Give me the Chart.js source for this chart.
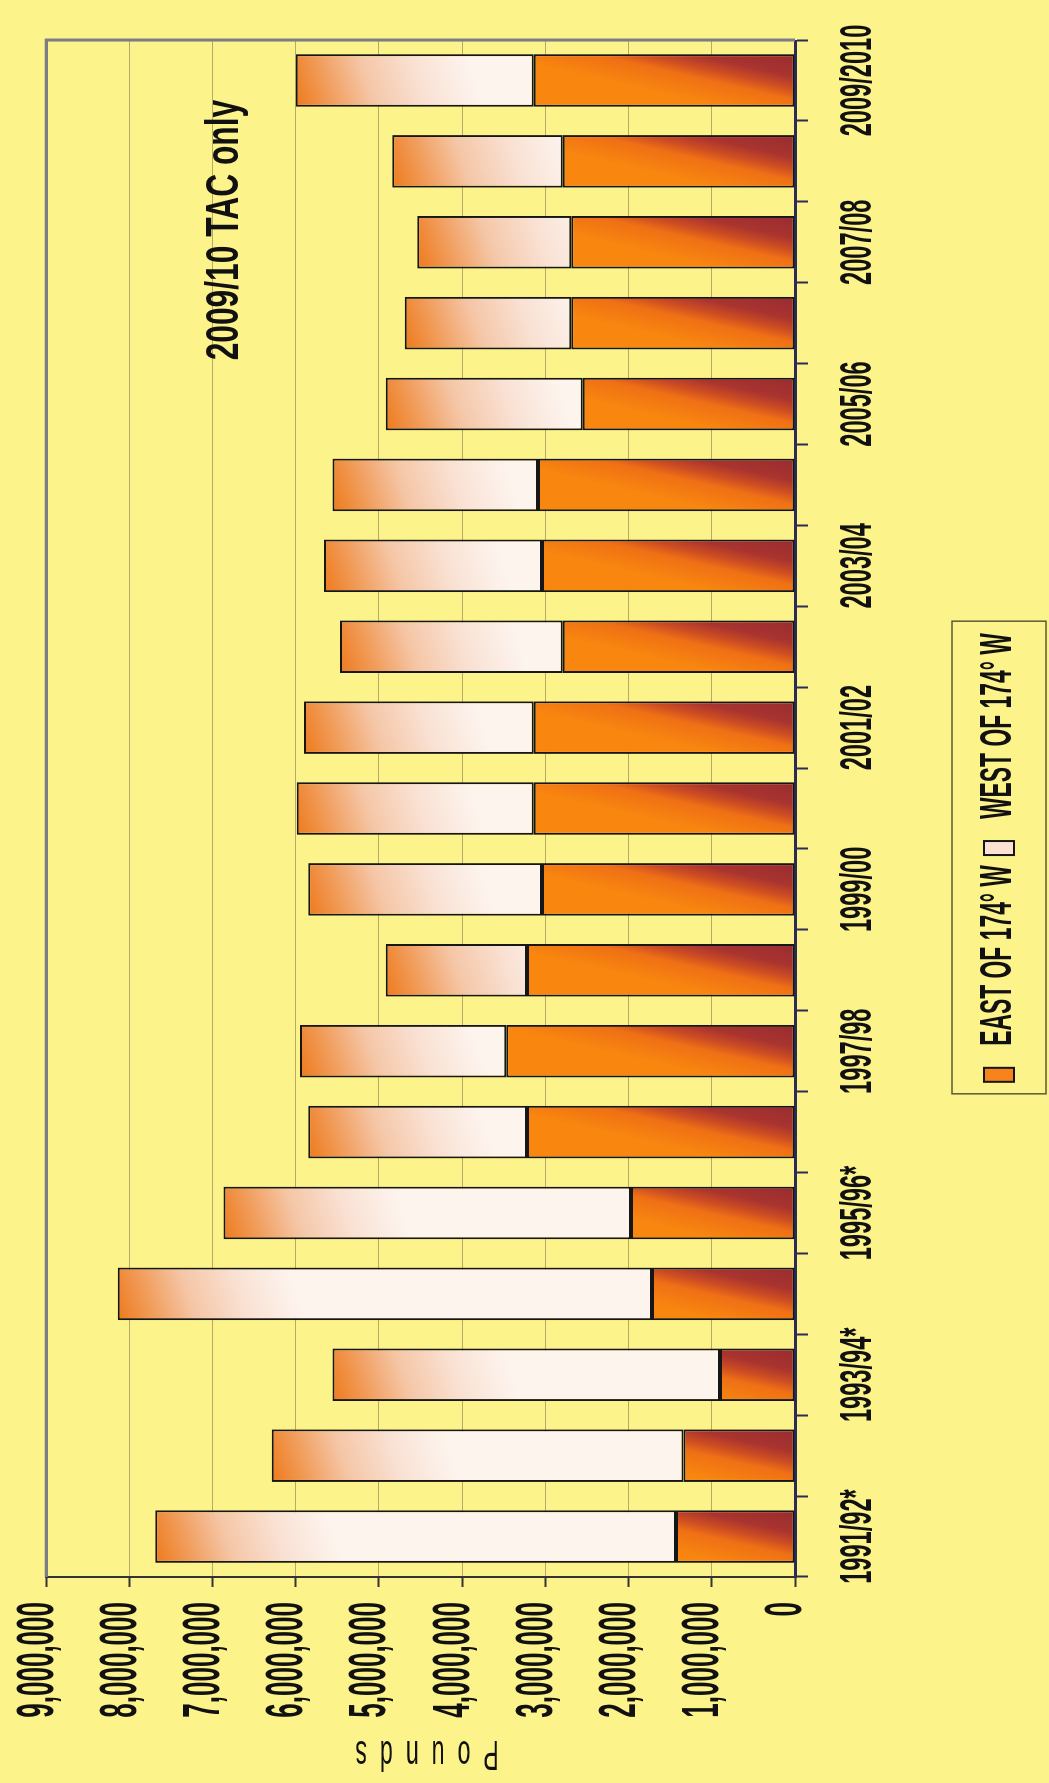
<!DOCTYPE html>
<html>
<head>
<meta charset="utf-8">
<script src="https://cdn.jsdelivr.net/npm/chart.js@4.4.1/dist/chart.umd.min.js"></script>
<style>
html,body{margin:0;padding:0;background:#fdf38b;width:1049px;height:1783px;overflow:hidden}
#wrap{position:absolute;left:0;top:0;width:1783px;height:1049px;transform-origin:0 0;transform:translate(0,1783px) rotate(-90deg)}
canvas{display:block}
</style>
</head>
<body>
<div id="wrap"><canvas id="c" width="1783" height="1049"></canvas></div>
<script>
// ---- data ----
const categories = ["1991/92*","1992/93","1993/94*","1994/95","1995/96*","1996/97","1997/98","1998/99","1999/00","2000/01","2001/02","2002/03","2003/04","2004/05","2005/06","2006/07","2007/08","2008/09","2009/2010"];
const eastValues = [1430000,1340000,900000,1720000,1970000,3220000,3470000,3220000,3040000,3140000,3140000,2790000,3040000,3090000,2550000,2690000,2690000,2790000,3140000];
const westValues = [6260000,4950000,4660000,6420000,4900000,2630000,2480000,1700000,2810000,2850000,2760000,2680000,2620000,2470000,2370000,2000000,1850000,2050000,2860000];
const seriesNames = ["EAST OF 174\u00b0 W", "WEST OF 174\u00b0 W"];
const legendColors = ["#f7841a", "#fbe3d3"];
const axisTitle = "Pounds";
const noteText = "2009/10 TAC only";
const noteCategory = 16.15;
const noteValue = 6850000;
const valueMax = 9000000;
const valueStep = 1000000;

// ---- condensed text rendering (the source font is ultra-condensed) ----
const canvas = document.getElementById('c');
const ctx = canvas.getContext('2d');
const SQUEEZE = {52:0.5, 45:0.525, 44:0.52, 43:0.54, 46:0.69};
const SPACING = {43:'24px'};
function sizeOf(font){ const m = /(\d+(?:\.\d+)?)px/.exec(font); return m ? Math.round(parseFloat(m[1])) : 0; }
const origFill = ctx.fillText.bind(ctx);
const origMeasure = ctx.measureText.bind(ctx);
ctx.fillText = function(t, x, y){
  const s = sizeOf(ctx.font); const k = SQUEEZE[s] || 1;
  ctx.save();
  if (SPACING[s]) ctx.letterSpacing = SPACING[s];
  ctx.translate(x, y); ctx.scale(k, 1);
  origFill(t, 0, 0);
  ctx.restore();
};
ctx.measureText = function(t){
  const s = sizeOf(ctx.font); const k = SQUEEZE[s] || 1;
  const prev = ctx.letterSpacing;
  if (SPACING[s]) ctx.letterSpacing = SPACING[s];
  const m = origMeasure(t);
  if (SPACING[s]) ctx.letterSpacing = prev;
  return {width:m.width*k, actualBoundingBoxAscent:m.actualBoundingBoxAscent, actualBoundingBoxDescent:m.actualBoundingBoxDescent,
    actualBoundingBoxLeft:m.actualBoundingBoxLeft*k, actualBoundingBoxRight:m.actualBoundingBoxRight*k,
    fontBoundingBoxAscent:m.fontBoundingBoxAscent, fontBoundingBoxDescent:m.fontBoundingBoxDescent};
};

const FAM = '"Liberation Sans", Arial, sans-serif';
const BAR_PCT = 0.65;

function eastFill(c){
  const solid = legendColors[0];
  if (c.type !== 'data') return solid;
  const ch = c.chart, xs = ch.scales.x, ys = ch.scales.y;
  if (!ch.chartArea || !xs || !ys) return solid;
  const hw = xs.width / categories.length * BAR_PCT / 2;
  const cx = xs.getPixelForValue(c.dataIndex);
  const y0 = ys.getPixelForValue(0);
  const g = ch.ctx.createLinearGradient(cx + hw, y0, cx + hw - 66, y0 - 15);
  g.addColorStop(0, '#982b30');
  g.addColorStop(0.33, '#a9342f');
  g.addColorStop(0.5, '#cc4c23');
  g.addColorStop(0.66, '#ef7015');
  g.addColorStop(1, '#f8860f');
  return g;
}
function westFill(c){
  const solid = legendColors[1];
  if (c.type !== 'data') return solid;
  const ch = c.chart, xs = ch.scales.x, ys = ch.scales.y;
  if (!ch.chartArea || !xs || !ys) return solid;
  const hw = xs.width / categories.length * BAR_PCT / 2;
  const cx = xs.getPixelForValue(c.dataIndex);
  const yT = ys.getPixelForValue(eastValues[c.dataIndex] + westValues[c.dataIndex]);
  const g = ch.ctx.createLinearGradient(cx - hw, yT, cx - hw + 55, yT + 170);
  g.addColorStop(0, '#ee7a1c');
  g.addColorStop(0.2, '#f19d5c');
  g.addColorStop(0.42, '#f5c6a6');
  g.addColorStop(0.7, '#f9e1d3');
  g.addColorStop(1, '#fdf4ee');
  return g;
}

const framePlugin = {
  id: 'frame',
  afterLayout(chart){
    const lg = chart.legend;
    if (lg) { lg.left += 46; lg.right += 46; }
  },
  beforeDatasetsDraw(chart){
    const {ctx: g, chartArea: a} = chart;
    g.save();
    g.strokeStyle = '#7c7c86';
    g.lineWidth = 3;
    g.beginPath();
    g.moveTo(a.left, a.top); g.lineTo(a.right, a.top); g.lineTo(a.right, a.bottom);
    g.stroke();
    g.restore();
  },
  afterDraw(chart){
    const g = chart.ctx, lg = chart.legend;
    if (lg && lg.legendHitBoxes && lg.legendHitBoxes.length){
      const hb = lg.legendHitBoxes;
      const l = Math.min(...hb.map(h => h.left)) - 12;
      const r = Math.max(...hb.map(h => h.left + h.width)) + 12;
      const mid = hb[0].top + hb[0].height / 2;
      g.save();
      g.strokeStyle = '#5a5a3a';
      g.lineWidth = 1.5;
      g.strokeRect(l, mid - 47, r - l, 94);
      g.restore();
    }
    const xs = chart.scales.x, ys = chart.scales.y;
    g.save();
    g.font = 'bold 46px ' + FAM;
    g.fillStyle = '#111';
    g.textAlign = 'center';
    g.textBaseline = 'middle';
    g.fillText(noteText, xs.getPixelForValue(noteCategory), ys.getPixelForValue(noteValue));
    g.restore();
  }
};

new Chart(ctx, {
  type: 'bar',
  data: {
    labels: categories,
    datasets: [
      {label: seriesNames[0], data: eastValues, backgroundColor: eastFill, borderColor: '#161616', borderWidth: 2, borderSkipped: false, barPercentage: BAR_PCT, categoryPercentage: 1},
      {label: seriesNames[1], data: westValues, backgroundColor: westFill, borderColor: '#161616', borderWidth: 2, borderSkipped: false, barPercentage: BAR_PCT, categoryPercentage: 1}
    ]
  },
  options: {
    responsive: false,
    animation: false,
    devicePixelRatio: 1,
    layout: {padding: {top: 35, right: 24, bottom: 18, left: 0}},
    plugins: {
      legend: {
        position: 'bottom',
        labels: {
          color: '#111', font: {family: FAM, size: 44, weight: 'bold'}, boxWidth: 14, boxHeight: 30, padding: 10,
          generateLabels: chart => {
            const items = Chart.defaults.plugins.legend.labels.generateLabels(chart);
            items.forEach((it, i) => { it.fillStyle = legendColors[i]; it.strokeStyle = '#161616'; it.lineWidth = 2; });
            return items;
          }
        }
      },
      tooltip: {enabled: false}
    },
    scales: {
      x: {
        stacked: true,
        grid: {drawOnChartArea: false, offset: true, tickLength: 13, color: '#2b2b55', tickColor: '#2b2b55', tickWidth: 2},
        border: {color: '#2b2b55', width: 3},
        ticks: {
          autoSkip: false, maxRotation: 0, minRotation: 0, padding: 24, color: '#111',
          font: {family: FAM, size: 45, weight: 'bold'},
          callback: (v, i) => (i % 2 === 0 ? categories[i] : '')
        },
        afterFit: s => { s.height = 172; }
      },
      y: {
        stacked: true,
        min: 0, max: valueMax,
        grid: {
          color: c => (c.tick && c.tick.value === valueMax ? '#7c7c86' : '#b8aa66'),
          lineWidth: c => (c.tick && c.tick.value === valueMax ? 3 : 1),
          tickLength: 10, tickColor: '#333', tickWidth: 2
        },
        border: {color: '#333', width: 2},
        ticks: {
          stepSize: valueStep, padding: 15, color: '#111', labelOffset: -8,
          font: {family: FAM, size: 52, weight: 'bold'},
          callback: v => Number(v).toLocaleString('en-US')
        },
        title: {display: true, text: axisTitle, color: '#111', font: {family: FAM, size: 43, weight: 'normal'}, padding: {top: 4, bottom: 4}},
        afterFit: s => { s.width = 206; }
      }
    }
  },
  plugins: [framePlugin]
});
</script>
</body>
</html>
